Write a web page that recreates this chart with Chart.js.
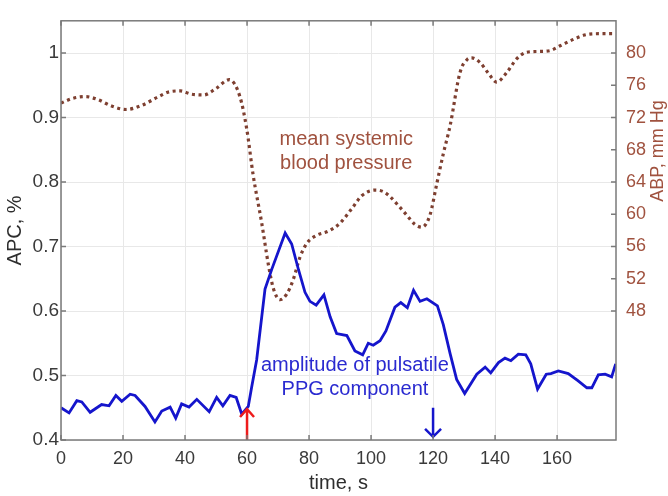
<!DOCTYPE html>
<html>
<head>
<meta charset="utf-8">
<script src="https://cdn.jsdelivr.net/npm/chart.js@4.4.1/dist/chart.umd.min.js"></script>
<style>
  html, body { margin: 0; padding: 0; background: #fff; }
</style>
</head>
<body>
<canvas id="apcChart" width="668" height="496"></canvas>
<script>
// time axis, s
const timeTicks = [0, 20, 40, 60, 80, 100, 120, 140, 160];
const timeMax = 179;

// amplitude of pulsatile PPG component (APC, %)
const apcTicks = [0.4, 0.5, 0.6, 0.7, 0.8, 0.9, 1];
const apcTime = [0, 2.6, 5.1, 6.7, 9.4, 13.1, 15.5, 17.7, 19.6, 22.3, 23.9, 27.1, 30.3, 32.5, 35.2, 37, 38.9, 41.3, 43.8, 47.8,
  50.2, 52.2, 54.5, 56.5, 58.3, 60.4, 61.5, 63.1, 65.8, 68, 72.3, 74.4, 76.6, 78.7, 80.3, 82.3, 84.8, 86.8, 88.9, 92.2,
  94.8, 97.3, 99.1, 100.7, 102.9, 104.8, 107.7, 109.6, 111.7, 113.7, 115.8, 118, 121.4, 123.3, 125.5, 127.6, 130.2, 134.1, 136.8, 138.6,
  141.1, 143.2, 145.1, 147.5, 149.9, 151.5, 153.7, 156.5, 158, 160.4, 163.6, 166.7, 169.6, 171.2, 173.3, 175.5, 177.6, 178.9];
const apcValue = [0.450, 0.442, 0.461, 0.459, 0.443, 0.455, 0.453, 0.469, 0.460, 0.471, 0.469, 0.452, 0.428, 0.445, 0.451, 0.434, 0.456, 0.451, 0.463, 0.444,
  0.466, 0.453, 0.469, 0.466, 0.440, 0.452, 0.482, 0.524, 0.634, 0.665, 0.721, 0.704, 0.664, 0.629, 0.615, 0.609, 0.625, 0.591, 0.565, 0.562,
  0.538, 0.532, 0.550, 0.547, 0.554, 0.569, 0.606, 0.613, 0.605, 0.632, 0.615, 0.619, 0.608, 0.579, 0.534, 0.494, 0.472, 0.502, 0.513, 0.504,
  0.520, 0.527, 0.523, 0.533, 0.532, 0.518, 0.479, 0.502, 0.503, 0.507, 0.503, 0.492, 0.481, 0.481, 0.501, 0.502, 0.498, 0.518];

// mean systemic blood pressure (ABP, mm Hg)
const abpTicks = [48, 52, 56, 60, 64, 68, 72, 76, 80];
const abpTime = [0, 4, 8, 12, 16.5, 21, 26, 31, 35, 38.5, 42, 46, 50, 54.3, 57.7, 59.9, 62, 64.7, 67, 68.5,
  70.6, 72.8, 74.9, 77.1, 79.3, 82.5, 86.2, 90, 93.8, 97, 101.3, 104, 106.1, 109, 111.5, 114, 116.4, 119, 121.2, 123.3,
  125.5, 128.7, 131, 132.5, 135.2, 138, 140.5, 143.8, 147, 150.2, 154, 157.7, 161, 165.3, 169.6, 174, 178.5];
const abpValue = [73.8, 74.4, 74.6, 74.2, 73.4, 73.0, 73.5, 74.5, 75.2, 75.3, 74.9, 74.8, 75.6, 76.7, 74.6, 70.6, 64.8, 59.0, 53.5, 50.8,
  49.4, 50.1, 51.9, 54.7, 56.4, 57.4, 57.9, 58.9, 60.7, 62.3, 63.0, 62.8, 62.2, 61.0, 59.9, 58.8, 58.4, 59.9, 63.8, 67.5,
  71.0, 77.6, 79.2, 79.4, 78.8, 77.4, 76.4, 77.6, 79.3, 80.1, 80.2, 80.3, 80.9, 81.7, 82.3, 82.4, 82.4];

const blue = '#1515cc';
const brownLine = '#7e3f30';
const brownText = '#a0523f';
const tickColor = '#3a3a3a';
const frameColor = '#7a7a7a';
const fontFamily = "'Liberation Sans', Arial, Helvetica, sans-serif";

const toPoints = (xs, ys) => xs.map((x, i) => ({ x: x, y: ys[i] }));
const setTicks = list => scale => { scale.ticks = list.map(v => ({ value: v })); };

// box round the plot with inward tick marks, right axis title, arrows and labels
const decorations = {
  id: 'decorations',
  afterDatasetsDraw(chart) {
    const ctx = chart.ctx;
    const { x, y, y2 } = chart.scales;
    const area = chart.chartArea;

    ctx.save();
    ctx.textAlign = 'center';
    ctx.textBaseline = 'middle';
    ctx.font = '20px ' + fontFamily;
    ctx.fillStyle = brownText;
    ctx.fillText('mean systemic', x.getPixelForValue(92), y.getPixelForValue(0.866));
    ctx.fillText('blood pressure', x.getPixelForValue(92), y.getPixelForValue(0.828));
    ctx.fillStyle = '#2a2ad0';
    ctx.fillText('amplitude of pulsatile', x.getPixelForValue(94.8), y.getPixelForValue(0.515));
    ctx.fillText('PPG component', x.getPixelForValue(94.8), y.getPixelForValue(0.478));

    // arrows at 60 s (up) and 120 s (down)
    ctx.lineWidth = 2.5;
    ctx.strokeStyle = '#ee1c1c';
    let ax = x.getPixelForValue(60);
    let top = y.getPixelForValue(0.448);
    ctx.beginPath();
    ctx.moveTo(ax, area.bottom);
    ctx.lineTo(ax, top);
    ctx.moveTo(ax - 7, top + 8);
    ctx.lineTo(ax, top);
    ctx.lineTo(ax + 7, top + 8);
    ctx.stroke();

    ctx.strokeStyle = blue;
    ax = x.getPixelForValue(120);
    const tip = y.getPixelForValue(0.405);
    ctx.beginPath();
    ctx.moveTo(ax, y.getPixelForValue(0.45));
    ctx.lineTo(ax, tip);
    ctx.moveTo(ax - 8, tip - 8);
    ctx.lineTo(ax, tip);
    ctx.lineTo(ax + 8, tip - 8);
    ctx.stroke();

    // frame
    ctx.strokeStyle = frameColor;
    ctx.lineWidth = 1.5;
    ctx.strokeRect(area.left, area.top, area.right - area.left, area.bottom - area.top);
    ctx.beginPath();
    const tl = 5;
    timeTicks.forEach(v => {
      const px = x.getPixelForValue(v);
      ctx.moveTo(px, area.bottom); ctx.lineTo(px, area.bottom - tl);
      ctx.moveTo(px, area.top); ctx.lineTo(px, area.top + tl);
    });
    apcTicks.forEach(v => {
      const py = y.getPixelForValue(v);
      ctx.moveTo(area.left, py); ctx.lineTo(area.left + tl, py);
    });
    abpTicks.forEach(v => {
      const py = y2.getPixelForValue(v);
      ctx.moveTo(area.right, py); ctx.lineTo(area.right - tl, py);
    });
    ctx.stroke();

    // right axis title, reading bottom to top
    ctx.translate(658, 151);
    ctx.rotate(-Math.PI / 2);
    ctx.font = '18px ' + fontFamily;
    ctx.fillStyle = brownText;
    ctx.fillText('ABP, mm Hg', 0, 0);
    ctx.restore();
  }
};

new Chart(document.getElementById('apcChart'), {
  type: 'line',
  data: {
    datasets: [{
      label: 'APC',
      data: toPoints(apcTime, apcValue),
      yAxisID: 'y',
      borderColor: blue,
      borderWidth: 2.8,
      pointRadius: 0,
      tension: 0,
      fill: false
    }, {
      label: 'ABP',
      data: toPoints(abpTime, abpValue),
      yAxisID: 'y2',
      borderColor: brownLine,
      borderWidth: 3.2,
      borderDash: [3, 3.6],
      pointRadius: 0,
      cubicInterpolationMode: 'monotone',
      fill: false
    }]
  },
  options: {
    responsive: false,
    animation: false,
    layout: { padding: { top: 4, left: 0, right: 0, bottom: 0 } },
    plugins: {
      legend: { display: false },
      tooltip: { enabled: false }
    },
    scales: {
      x: {
        type: 'linear',
        min: 0,
        max: timeMax,
        afterBuildTicks: setTicks(timeTicks),
        afterFit: s => { s.height = 56; },
        grid: { color: '#e8e8e8', lineWidth: 1, drawTicks: false },
        border: { display: false },
        ticks: { color: tickColor, padding: 8, font: { family: fontFamily, size: 18 } },
        title: { display: true, text: 'time, s', color: '#2e2e2e', padding: { top: 0, bottom: 1 }, font: { family: fontFamily, size: 20 } }
      },
      y: {
        position: 'left',
        min: 0.4,
        max: 1.05,
        afterBuildTicks: setTicks(apcTicks),
        afterFit: s => { s.width = 61; },
        grid: { color: '#e8e8e8', lineWidth: 1, drawTicks: false },
        border: { display: false },
        ticks: { color: tickColor, padding: 2, font: { family: fontFamily, size: 19 }, callback: v => String(+v.toFixed(2)) },
        title: { display: true, text: 'APC, %', color: '#2e2e2e', padding: { top: 3, bottom: 0 }, font: { family: fontFamily, size: 20 } }
      },
      y2: {
        position: 'right',
        min: 32,
        max: 84,
        afterBuildTicks: setTicks(abpTicks),
        afterFit: s => { s.width = 52; },
        grid: { display: false, drawTicks: false },
        border: { display: false },
        ticks: { color: brownText, padding: 10, font: { family: fontFamily, size: 18 } }
      }
    }
  },
  plugins: [decorations]
});
</script>
</body>
</html>
